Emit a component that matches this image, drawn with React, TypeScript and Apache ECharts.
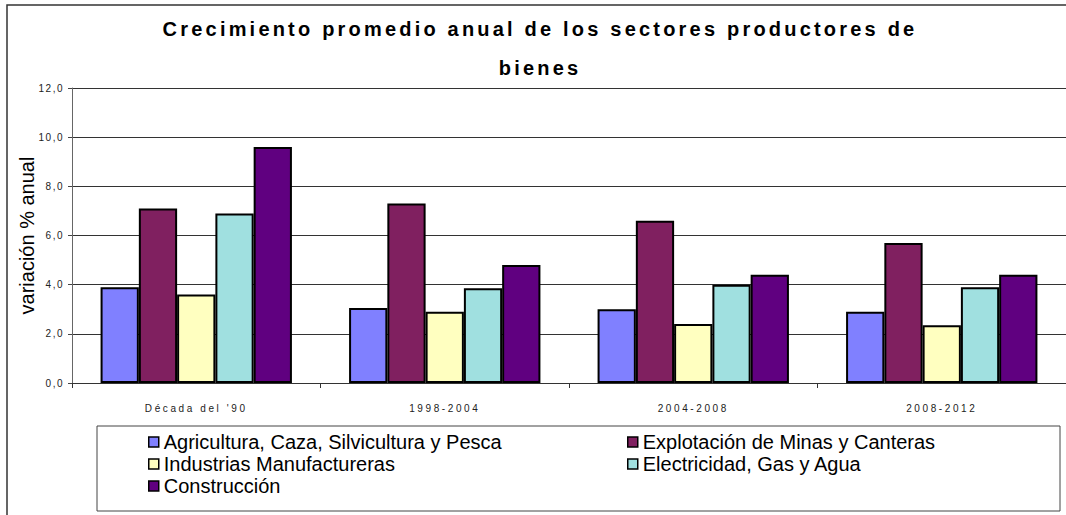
import React, { useEffect, useRef } from 'react';
import * as echarts from 'echarts';

const categories = ["Década del '90", '1998-2004', '2004-2008', '2008-2012'];
const seriesNames = [
  'Agricultura, Caza, Silvicultura y Pesca',
  'Explotación de Minas y Canteras',
  'Industrias Manufactureras',
  'Electricidad, Gas y Agua',
  'Construcción',
];
const agricultura = [3.9, 3.05, 3.0, 2.9];
const mineria = [7.1, 7.3, 6.6, 5.7];
const industria = [3.6, 2.9, 2.4, 2.35];
const electricidad = [6.9, 3.85, 4.0, 3.9];
const construccion = [9.6, 4.8, 4.4, 4.4];
const yMin = 0;
const yMax = 12;
const yStep = 2;
const titleLines = ['Crecimiento promedio anual de los sectores productores de', 'bienes'];
const yName = 'variación % anual';

const palette = ['#8080FF', '#802060', '#FFFFC0', '#A0E0E0', '#600080'];
const FONT = '"Liberation Sans", Arial, sans-serif';

export default function App() {
  const ref = useRef<HTMLDivElement>(null);
  useEffect(() => {
    const el = ref.current!;
    const chart = echarts.init(el, undefined, { renderer: 'svg' });
    const values = [agricultura, mineria, industria, electricidad, construccion];
    const option = {
      animation: false,
      backgroundColor: '#fff',
      grid: { left: 72, top: 88, width: 1000, height: 295, containLabel: false },
      graphic: [
        {
          type: 'rect',
          shape: { x: 7, y: 5, width: 1070, height: 520 },
          style: { fill: 'none', stroke: '#333', lineWidth: 1.5 },
          silent: true,
        },
        {
          type: 'rect',
          shape: { x: 97, y: 426, width: 963, height: 85 },
          style: { fill: 'none', stroke: '#444', lineWidth: 1 },
          silent: true,
        },
        {
          type: 'text',
          style: {
            text: titleLines[0], x: 540, y: 29, align: 'center', verticalAlign: 'middle',
            fontSize: 20, fontWeight: 'bold', fontFamily: FONT, fill: '#000',
          },
          silent: true,
        },
        {
          type: 'text',
          style: {
            text: titleLines[1], x: 540, y: 68, align: 'center', verticalAlign: 'middle',
            fontSize: 20, fontWeight: 'bold', fontFamily: FONT, fill: '#000',
          },
          silent: true,
        },
      ],
      legend: [
        {
          data: [seriesNames[0], seriesNames[2], seriesNames[4]],
          orient: 'vertical', left: 148, top: 431, itemGap: 0, padding: 0,
          itemWidth: 10, itemHeight: 10, icon: 'rect', selectedMode: false,
          itemStyle: { borderColor: '#000', borderWidth: 1.5 },
          textStyle: { fontSize: 20, lineHeight: 22, color: '#000', fontFamily: FONT },
        },
        {
          data: [seriesNames[1], seriesNames[3]],
          orient: 'vertical', left: 627, top: 431, itemGap: 0, padding: 0,
          itemWidth: 10, itemHeight: 10, icon: 'rect', selectedMode: false,
          itemStyle: { borderColor: '#000', borderWidth: 1.5 },
          textStyle: { fontSize: 20, lineHeight: 22, color: '#000', fontFamily: FONT },
        },
      ],
      xAxis: {
        type: 'category',
        data: categories,
        axisLine: { lineStyle: { color: '#333', width: 1 } },
        axisTick: { show: true, length: 5, lineStyle: { color: '#333' } },
        axisLabel: { fontSize: 10, color: '#222', margin: 20, fontFamily: FONT },
      },
      yAxis: {
        type: 'value',
        min: yMin,
        max: yMax,
        interval: yStep,
        name: yName,
        nameLocation: 'middle',
        nameGap: 35,
        nameMoveOverlap: false,
        nameTextStyle: { fontSize: 20, color: '#000', fontFamily: FONT },
        axisLine: { show: true, lineStyle: { color: '#666' } },
        axisTick: { show: true, length: 4, lineStyle: { color: '#444' } },
        axisLabel: {
          fontSize: 10, color: '#222', margin: 8, fontFamily: FONT,
          formatter: (v: number) => v.toFixed(1).replace('.', ','),
        },
        splitLine: { lineStyle: { color: '#333', width: 1 } },
      },
      series: seriesNames.map((name, i) => ({
        name,
        type: 'bar',
        data: values[i],
        barGap: '0%',
        barCategoryGap: '23%',
        itemStyle: { color: palette[i], borderColor: '#000', borderWidth: 2 },
        emphasis: { disabled: true },
      })),
    };
    chart.setOption(option as any);
    const spacing = () => {
      el.querySelectorAll('text').forEach((t) => {
        const s = t.textContent || '';
        if (titleLines.includes(s)) t.setAttribute('letter-spacing', '3.2');
        else if (categories.includes(s)) t.setAttribute('letter-spacing', '2.6');
        else if (/^\d+,\d$/.test(s)) t.setAttribute('letter-spacing', '1.5');
      });
    };
    spacing();
    chart.on('finished', spacing);
    return () => chart.dispose();
  }, []);
  return (
    <div
      ref={ref}
      style={{ position: 'fixed', left: 0, top: 0, width: 1066, height: 515, background: '#fff' }}
    />
  );
}
